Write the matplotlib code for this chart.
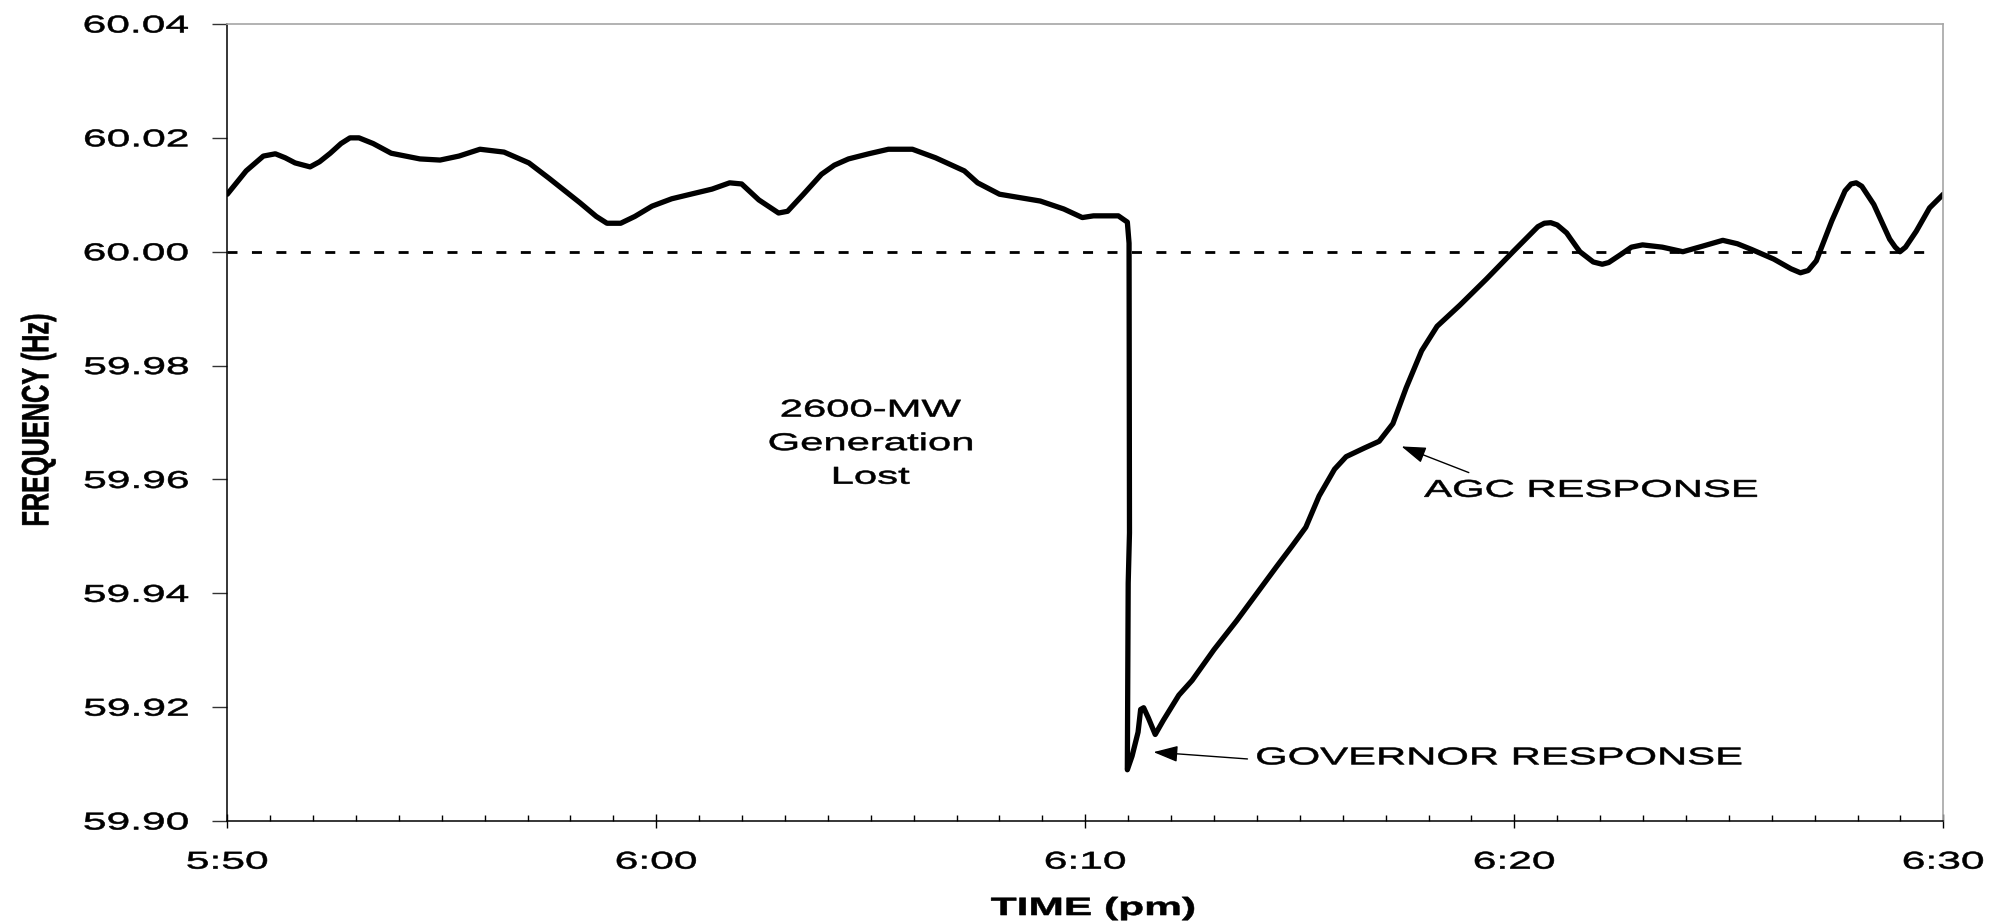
import matplotlib
matplotlib.use('Agg')
import matplotlib.pyplot as plt
from matplotlib.patheffects import AbstractPathEffect
from matplotlib.transforms import Affine2D
from matplotlib.ticker import MultipleLocator

plt.rcParams['font.family'] = ['Liberation Sans', 'DejaVu Sans']

# minutes after 5:50 pm and frequency in Hz

minutes = [0.00, 0.44, 0.84, 1.12, 1.35, 1.58, 1.93, 2.15, 2.40, 2.65, 2.86, 3.07, 3.40, 3.82,
           4.49, 4.96, 5.40, 5.89, 6.45, 7.03, 7.50, 8.22, 8.60, 8.85, 9.17, 9.50, 9.90,
           10.36, 10.80, 11.30, 11.71, 11.99, 12.39, 12.85, 13.06, 13.43, 13.85, 14.15, 14.48,
           14.95, 15.41, 15.97, 16.51, 17.18, 17.49, 18.00, 18.95, 19.50, 19.93, 20.19, 20.77,
           20.98, 21.02, 21.03, 21.00, 20.98, 21.09, 21.23, 21.29, 21.36, 21.47,
           21.63, 21.82, 22.18, 22.49, 23.00, 23.53, 24.00, 24.46, 24.82, 25.14, 25.45,
           25.81, 26.08, 26.50, 26.85, 27.17, 27.48, 27.84, 28.20, 28.73, 29.35, 29.97,
           30.55, 30.70, 30.85, 31.00, 31.22, 31.53, 31.84, 32.05, 32.20, 32.50, 32.73, 32.99,
           33.45, 33.93, 34.40, 34.86, 35.20, 35.53, 36.05, 36.45, 36.67, 36.85, 37.04,
           37.40, 37.71, 37.85, 37.97, 38.10, 38.38, 38.75, 38.88, 38.99, 39.12, 39.37,
           39.68, 40.00]
freq = [60.0101, 60.0142, 60.0168, 60.0172, 60.0165, 60.0156, 60.0149, 60.0158, 60.0173, 60.0190, 60.0200, 60.0200, 60.0190, 60.0173,
        60.0163, 60.0161, 60.0168, 60.0180, 60.0175, 60.0156, 60.0129, 60.0086, 60.0062, 60.0050, 60.0050, 60.0062, 60.0080,
        60.0093, 60.0101, 60.0110, 60.0121, 60.0119, 60.0091, 60.0068, 60.0071, 60.0101, 60.0136, 60.0152, 60.0163,
        60.0172, 60.0180, 60.0180, 60.0165, 60.0142, 60.0121, 60.0101, 60.0089, 60.0075, 60.0060, 60.0063, 60.0063,
        60.0052, 60.0015, 59.9506, 59.9418, 59.9090, 59.9114, 59.9156, 59.9196, 59.9199, 59.9181,
        59.9152, 59.9177, 59.9221, 59.9247, 59.9301, 59.9352, 59.9400, 59.9447, 59.9483, 59.9516, 59.9571,
        59.9618, 59.9640, 59.9655, 59.9667, 59.9698, 59.9761, 59.9826, 59.9869, 59.9906, 59.9952, 60.0000,
        60.0044, 60.0050, 60.0051, 60.0047, 60.0033, 60.0000, 59.9982, 59.9978, 59.9981, 59.9996, 60.0008, 60.0012,
        60.0008, 60.0000, 60.0010, 60.0020, 60.0014, 60.0004, 59.9987, 59.9970, 59.9963, 59.9967, 59.9984,
        60.0054, 60.0107, 60.0119, 60.0121, 60.0115, 60.0083, 60.0022, 60.0008, 60.0000, 60.0008, 60.0036,
        60.0077, 60.0101]

xtick_pos = [0, 10, 20, 30, 40]
xtick_labels = ['5:50', '6:00', '6:10', '6:20', '6:30']
ytick_pos = [59.90, 59.92, 59.94, 59.96, 59.98, 60.00, 60.02, 60.04]

nominal = 60.00
nominal_end = 39.6

# annotation placement (minutes, Hz)

event_text = '2600-MW\nGeneration\nLost'
event_xy = (15.0, 59.9662)
agc_text = 'AGC RESPONSE'
agc_xy = (27.9, 59.958)
agc_tip = (27.37, 59.9658)
agc_tail = (28.94, 59.9612)
gov_text = 'GOVERNOR RESPONSE'
gov_xy = (23.98, 59.911)
gov_tip = (21.59, 59.9121)
gov_tail = (23.78, 59.9109)


# the original picture is widened, so widen the glyphs about one edge

class StretchX(AbstractPathEffect):
    def __init__(self, sx, anchor='center', stroke=0.4):
        super().__init__()
        self.sx = sx
        self.anchor = anchor
        self.stroke = stroke

    def draw_path(self, renderer, gc, tpath, affine, rgbFace=None):
        box = tpath.get_extents(affine)
        if self.anchor == 'left':
            x0 = box.x0
        elif self.anchor == 'right':
            x0 = box.x1
        else:
            x0 = (box.x0 + box.x1) / 2
        affine = affine + Affine2D().translate(-x0, 0).scale(self.sx, 1).translate(x0, 0)
        gc.set_linewidth(self.stroke)
        gc.set_foreground(rgbFace)
        renderer.draw_path(gc, tpath, affine, rgbFace)


fig = plt.figure(figsize=(19.97, 9.22), dpi=100)
ax = fig.add_axes([0.11382, 0.10954, 0.85929, 0.86443])

ax.plot(minutes, freq, color='black', lw=3.8,
        solid_joinstyle='round', solid_capstyle='round')
ax.hlines(nominal, 0, nominal_end, colors='black', lw=2.0,
          linestyles=(0, (3.6, 5.2)))

ax.set_xlim(0, 40)
ax.set_ylim(59.90, 60.04)

for side in ['top', 'right']:
    ax.spines[side].set_color('#a6a6a6')
    ax.spines[side].set_linewidth(1.2)
for side in ['left', 'bottom']:
    ax.spines[side].set_color('black')
    ax.spines[side].set_linewidth(1.1)

ax.set_xticks(xtick_pos, xtick_labels)
ax.xaxis.set_minor_locator(MultipleLocator(1))
ax.set_yticks(ytick_pos, ['%.2f' % v for v in ytick_pos])

ax.tick_params(axis='x', which='major', direction='inout', length=9.5,
               width=1.0, pad=17.3, labelsize=17.5)
ax.tick_params(axis='x', which='minor', direction='in', length=4.3, width=1.0)
ax.tick_params(axis='y', which='major', direction='out', length=10.8,
               width=1.0, color='#333333', pad=17, labelsize=17.5)

for lab in ax.get_xticklabels():
    lab.set_path_effects([StretchX(1.75, 'center')])
for lab in ax.get_yticklabels():
    lab.set_path_effects([StretchX(1.75, 'right')])

ax.set_xlabel('TIME (pm)', fontsize=18, fontweight='bold', va='top',
              path_effects=[StretchX(1.7, 'center')])
ax.xaxis.set_label_coords(0.5045, -0.0941)
ax.set_ylabel('FREQUENCY (Hz)', fontsize=18.2, fontweight='bold', va='center',
              path_effects=[StretchX(1.5, 'center')])
ax.yaxis.set_label_coords(-0.1103, 0.503)

ax.text(event_xy[0], event_xy[1], event_text, fontsize=17.5, ha='center',
        va='center', multialignment='center', linespacing=1.68,
        path_effects=[StretchX(1.72, 'center')])
ax.text(agc_xy[0], agc_xy[1], agc_text, fontsize=17.5, ha='left', va='center',
        path_effects=[StretchX(1.72, 'left')])
ax.text(gov_xy[0], gov_xy[1], gov_text, fontsize=17.5, ha='left', va='center',
        path_effects=[StretchX(1.72, 'left')])

arrow = dict(arrowstyle='-|>,head_length=0.75,head_width=0.25', color='black',
             lw=1.0, shrinkA=0, shrinkB=0, mutation_scale=20)
ax.annotate('', xy=agc_tip, xytext=agc_tail, arrowprops=arrow)
ax.annotate('', xy=gov_tip, xytext=gov_tail, arrowprops=arrow)

fig.savefig('out.png', dpi=100)
